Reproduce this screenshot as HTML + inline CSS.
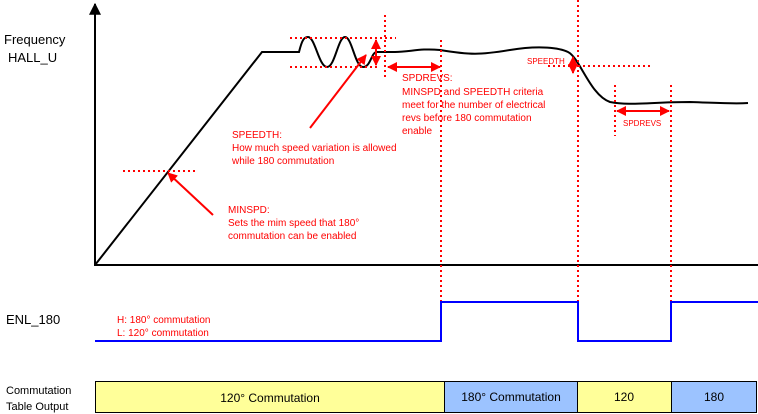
<!DOCTYPE html>
<html><head><style>
body{margin:0;background:#fff;}
svg{display:block;}
text{font-family:"Liberation Sans","Noto Sans CJK JP",sans-serif;}
.r{fill:#f00;font-size:10px;}
.k{fill:#000;font-size:13px;}
</style></head><body>
<svg width="758" height="414" viewBox="0 0 758 414" xmlns="http://www.w3.org/2000/svg">
<defs>
<marker id="a" viewBox="0 0 10 10" refX="9" refY="5" markerWidth="5" markerHeight="5" orient="auto-start-reverse"><path d="M0,0L10,5L0,10z" fill="#f00"/></marker>
<marker id="b" viewBox="0 0 10 10" refX="9" refY="5" markerWidth="6" markerHeight="6" orient="auto"><path d="M0,0L10,5L0,10z" fill="#000"/></marker>
</defs>
<line x1="95" y1="266" x2="95" y2="4" stroke="#000" stroke-width="2" marker-end="url(#b)"/>
<line x1="94" y1="265" x2="758" y2="265" stroke="#000" stroke-width="2"/>
<text class="k" x="4" y="44">Frequency</text>
<text class="k" x="8" y="62">HALL_U</text>
<path d="M95,265 L262,52 L299,52 C302,40 304,37 308,37 C315,37 319,67 327,67 C335,67 338,37 345,37 C352,37 355,67 363,67 C371,67 371,52 377,52 L395,52 C410,52 420,48 440,50 C470,55 480,55 510,50 C540,45 560,48 568,52 C580,58 590,95 610,102 C630,106 650,102 690,102 C720,103 735,104 748,103" fill="none" stroke="#000" stroke-width="2"/>
<g stroke="#f00" stroke-width="2" stroke-dasharray="2,3" fill="none">
<line x1="123" y1="171" x2="198" y2="171"/>
<line x1="290" y1="38" x2="396" y2="38"/>
<line x1="290" y1="67" x2="380" y2="67"/>
<line x1="385" y1="15" x2="385" y2="78"/>
<line x1="441" y1="40" x2="441" y2="302"/>
<line x1="578" y1="0" x2="578" y2="340"/>
<line x1="548" y1="66" x2="652" y2="66"/>
<line x1="615" y1="85" x2="615" y2="136"/>
<line x1="671" y1="85" x2="671" y2="302"/>
</g>
<g stroke="#f00" stroke-width="2" fill="none">
<line x1="376" y1="40" x2="376" y2="65" marker-start="url(#a)" marker-end="url(#a)"/>
<line x1="388" y1="67" x2="440" y2="67" marker-start="url(#a)" marker-end="url(#a)"/>
<line x1="573" y1="57" x2="573" y2="73" marker-start="url(#a)" marker-end="url(#a)"/>
<line x1="617" y1="111" x2="669" y2="111" marker-start="url(#a)" marker-end="url(#a)"/>
<line x1="310" y1="128" x2="366" y2="55" marker-end="url(#a)"/>
<line x1="213" y1="215" x2="168" y2="173" marker-end="url(#a)"/>
</g>
<text class="r" x="402" y="81">SPDREVS:</text>
<text class="r" x="402" y="95">MINSPD and SPEEDTH criteria</text>
<text class="r" x="402" y="108">meet for the number of electrical</text>
<text class="r" x="402" y="121">revs before 180 commutation</text>
<text class="r" x="402" y="134">enable</text>
<text class="r" x="232" y="138">SPEEDTH:</text>
<text class="r" x="232" y="151">How much speed variation is allowed</text>
<text class="r" x="232" y="164">while 180 commutation</text>
<text class="r" x="228" y="213">MINSPD:</text>
<text class="r" x="228" y="226">Sets the mim speed that 180°</text>
<text class="r" x="228" y="239">commutation can be enabled</text>
<text class="r" x="527" y="64" style="font-size:8px">SPEEDTH</text>
<text class="r" x="623" y="126" style="font-size:8px">SPDREVS</text>
<text class="r" x="117" y="323">H: 180° commutation</text>
<text class="r" x="117" y="336">L: 120° commutation</text>
<text class="k" x="6" y="324">ENL_180</text>
<path d="M95,341 L441,341 L441,302 L578,302 L578,341 L671,341 L671,302 L758,302" fill="none" stroke="#00f" stroke-width="2"/>
<text class="k" x="6" y="394" style="font-size:11px">Commutation</text>
<text class="k" x="6" y="410" style="font-size:11px">Table Output</text>
<g stroke="#000" stroke-width="1">
<rect x="95.5" y="381.5" width="349" height="31" fill="#ffff99"/>
<rect x="444.5" y="381.5" width="133" height="31" fill="#9cc3ff"/>
<rect x="577.5" y="381.5" width="94" height="31" fill="#ffff99"/>
<rect x="671.5" y="381.5" width="85" height="31" fill="#9cc3ff"/>
</g>
<g style="font-size:12px" text-anchor="middle">
<text x="270" y="402">120° Commutation</text>
<text x="511" y="401">180°  Commutation</text>
<text x="624" y="401">120</text>
<text x="714" y="401">180</text>
</g>
</svg>
</body></html>
